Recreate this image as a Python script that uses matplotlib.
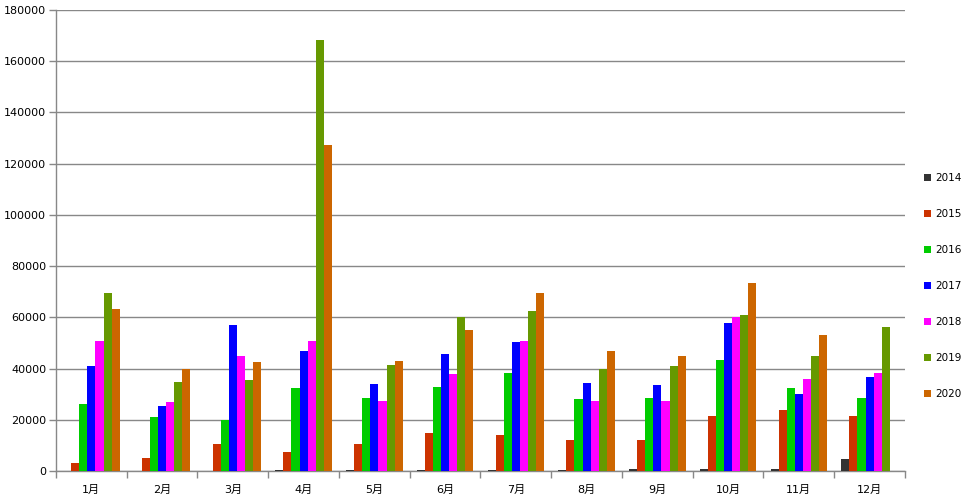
import matplotlib
matplotlib.use("Agg")
import matplotlib.pyplot as plt
import numpy as np

plt.rcParams['font.family'] = ['DejaVu Sans', 'Noto Sans CJK JP']

months = ['1月', '2月', '3月', '4月', '5月', '6月', '7月', '8月', '9月', '10月', '11月', '12月']
years = ['2014', '2015', '2016', '2017', '2018', '2019', '2020']
colors = ['#333333', '#CC3300', '#00CC00', '#0000FF', '#FF00FF', '#669900', '#CC6600']

v2014 = [0, 0, 0, 400, 400, 400, 400, 400, 800, 800, 800, 4700]
v2015 = [3200, 5100, 10700, 7500, 10700, 14800, 14000, 12100, 12100, 21500, 23800, 21500]
v2016 = [26200, 21100, 20000, 32400, 28500, 32800, 38300, 28100, 28500, 43300, 32400, 28500]
v2017 = [41000, 25400, 57000, 46900, 34000, 45700, 50400, 34400, 33600, 57800, 30100, 36700]
v2018 = [50800, 26900, 44900, 50800, 27300, 37900, 50800, 27300, 27300, 60100, 35900, 38300]
v2019 = [69500, 34800, 35500, 168300, 41400, 60100, 62500, 39800, 41000, 60900, 44900, 56200]
v2020 = [63300, 39800, 42600, 127300, 43000, 55100, 69500, 46900, 44900, 73400, 53100, 0]
series = [v2014, v2015, v2016, v2017, v2018, v2019, v2020]

fig = plt.figure(figsize=(9.67, 4.99), dpi=100)
ax = fig.add_axes([56/967, 28/499, (905-56)/967, (471-10)/499])

x = np.arange(len(months))
n = len(series)
w = 0.8 / n
for i, (vals, c, y) in enumerate(zip(series, colors, years)):
    ax.bar(x - 0.4 + w * (i + 0.5), vals, width=w, color=c, label=y, zorder=3)

ax.set_xlim(-0.5, len(months) - 0.5)
ax.set_ylim(0, 180000)
ax.set_yticks(np.arange(0, 180001, 20000))
ax.yaxis.grid(True, color='#888888', linewidth=1, zorder=0)
for s in ['top', 'right']:
    ax.spines[s].set_visible(False)
for s in ['left', 'bottom']:
    ax.spines[s].set_color('#888888')
    ax.spines[s].set_linewidth(1)

ax.set_xticks(x)
ax.set_xticklabels(months)
ax.set_xticks(np.arange(-0.5, len(months)), minor=True)
ax.tick_params(axis='x', which='major', length=0, pad=10, labelsize=8)
ax.tick_params(axis='x', which='minor', length=5, color='#888888', width=1)
ax.tick_params(axis='y', length=5, color='#888888', width=1, labelsize=8, pad=2)

leg = fig.legend(loc='center left', bbox_to_anchor=(924/967, 1 - 286/499), frameon=False,
                 fontsize=7.5, handlelength=0.7, handleheight=0.7, handletextpad=0.35,
                 labelspacing=2.5, borderpad=0, borderaxespad=0)

fig.savefig('out.png', dpi=100)
